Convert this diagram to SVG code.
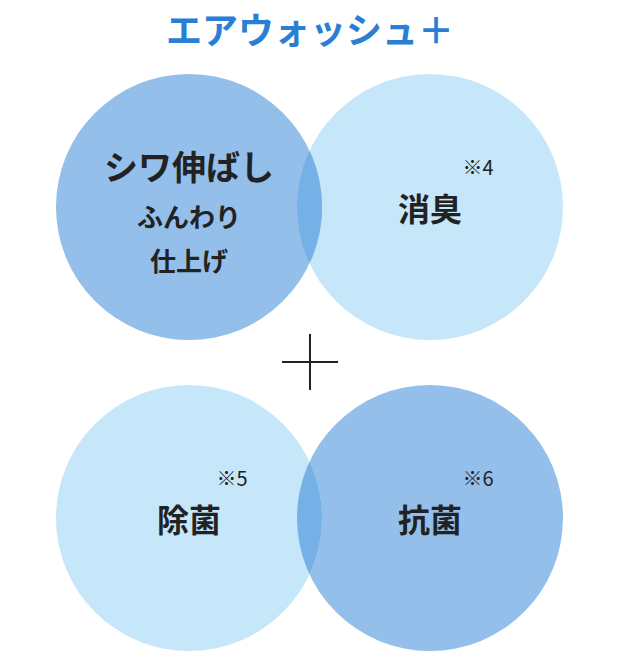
<svg xmlns="http://www.w3.org/2000/svg" width="620" height="652" viewBox="0 0 620 652">
<style>
.t{font-family:"Noto Sans CJK JP",sans-serif;font-weight:bold;fill:#222;text-anchor:middle}
.n{font-family:"Noto Sans CJK JP",sans-serif;font-size:20px;fill:#222;text-anchor:middle}
.dark{fill:#93bfea}.light{fill:#c6e6f9}.ov{fill:#75b1e6}
</style>
<defs>
<clipPath id="c1"><circle cx="189" cy="207" r="133"/></clipPath>
<clipPath id="c2"><circle cx="189" cy="518" r="133"/></clipPath>
</defs>
<rect width="620" height="652" fill="#fff"/>
<text x="310" y="44" font-family="Noto Sans CJK JP,sans-serif" font-weight="bold" font-size="36" fill="#2a7fd4" text-anchor="middle">エアウォッシュ＋</text>
<g id="shosyu"><circle class="light" cx="430" cy="207" r="133"/></g>
<g id="shiwa"><circle class="dark" cx="189" cy="207" r="133"/></g>
<circle class="ov" cx="430" cy="207" r="133" clip-path="url(#c1)"/>
<g id="kokin"><circle class="dark" cx="430" cy="518" r="133"/></g>
<g id="jokin"><circle class="light" cx="189" cy="518" r="133"/></g>
<circle class="ov" cx="430" cy="518" r="133" clip-path="url(#c2)"/>
<g id="connectors"><path d="M282 362H338M310 334V390" stroke="#222" stroke-width="2" fill="none"/></g>
<text class="t" x="189" y="180" font-size="34">シワ伸ばし</text>
<text class="t" x="189" y="227" font-size="26">ふんわり</text>
<text class="t" x="189" y="271" font-size="26">仕上げ</text>
<text class="t" x="430" y="221" font-size="32">消臭</text>
<text class="n" x="478" y="175">※4</text>
<text class="t" x="189" y="532" font-size="32">除菌</text>
<text class="n" x="232" y="486">※5</text>
<text class="t" x="430" y="532" font-size="32">抗菌</text>
<text class="n" x="478" y="486">※6</text>
</svg>
